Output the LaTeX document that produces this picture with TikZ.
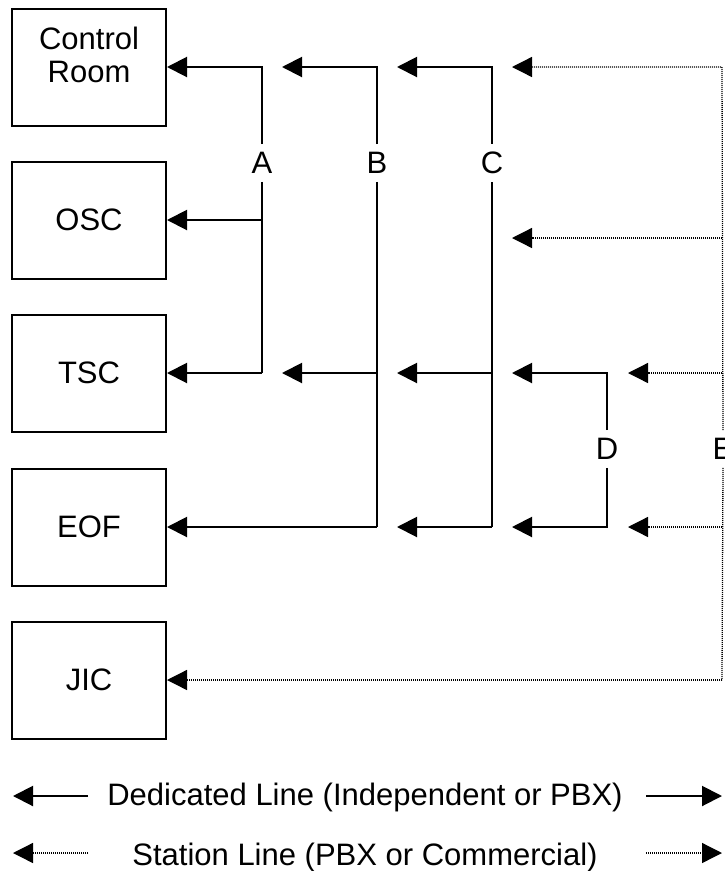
\documentclass[tikz,border=0pt]{standalone}
\usepackage{fontspec}
\setmainfont{Liberation Sans}
\usetikzlibrary{arrows.meta}
\tikzset{
  box/.style={draw, line width=2pt, minimum width=154pt, minimum height=117pt, inner sep=0pt, font=\fontsize{31}{33}\selectfont},
  txt/.style={inner sep=0pt, font=\fontsize{31}{33}\selectfont, align=center},
  tag/.style={inner xsep=2pt, inner ysep=8pt, font=\fontsize{31}{33}\selectfont},
  solidarrow/.style={line width=2pt, -{Triangle[length=20pt,width=20pt]}},
  solidplain/.style={line width=2pt},
  dotarrow/.style={line width=1.3pt, dash pattern=on 1pt off 1pt, -{Triangle[length=20pt,width=20pt]}},
  dotplain/.style={line width=1.3pt, dash pattern=on 1pt off 1pt},
}
\begin{document}
\begin{tikzpicture}[x=1pt,y=-1pt]
\useasboundingbox (0,0) rectangle (724,871);

% boxes
\node[box] (cr)  at (89,67)  {};
\node[txt] (crtext) at (89,55) {Control\\Room};
\node[box] (osc) at (89,220) {OSC};
\node[box] (tsc) at (89,373) {TSC};
\node[box] (eof) at (89,527) {EOF};
\node[box] (jic) at (89,680) {JIC};

% labels
\node[tag] (Alab) at (262,163) {A};
\node[tag] (Blab) at (377,163) {B};
\node[tag] (Clab) at (492,163) {C};
\node[tag] (Dlab) at (607,449) {D};
\node[tag] (Elab) at (723,449) {E};

% junction coordinates
\coordinate (a1) at (262,67);
\coordinate (a2) at (262,220);
\coordinate (a3) at (262,373);
\coordinate (b1) at (377,67);
\coordinate (b3) at (377,373);
\coordinate (b4) at (377,527);
\coordinate (bt1) at (282,67);
\coordinate (bt3) at (282,373);
\coordinate (c1) at (492,67);
\coordinate (c3) at (492,373);
\coordinate (c4) at (492,527);
\coordinate (ct1) at (397,67);
\coordinate (ct3) at (397,373);
\coordinate (ct4) at (397,527);
\coordinate (d1) at (607,373);
\coordinate (d2) at (607,527);
\coordinate (dt1) at (512,373);
\coordinate (dt2) at (512,527);
\coordinate (e1) at (722,67);
\coordinate (e2) at (722,238);
\coordinate (e3) at (722,373);
\coordinate (e4) at (722,527);
\coordinate (e5) at (722,680);
\coordinate (et1) at (512,67);
\coordinate (et2) at (512,238);
\coordinate (et3) at (628,373);
\coordinate (et4) at (628,527);

% A
\draw[solidarrow] (Alab.north) -- (a1) -- (cr.east);
\draw[solidplain] (Alab.south) -- (a3);
\draw[solidarrow] (a2) -- (osc.east);
\draw[solidarrow] (a3) -- (tsc.east);
% B
\draw[solidarrow] (Blab.north) -- (b1) -- (bt1);
\draw[solidplain] (Blab.south) -- (b4);
\draw[solidarrow] (b3) -- (bt3);
\draw[solidarrow] (b4) -- (eof.east);
% C
\draw[solidarrow] (Clab.north) -- (c1) -- (ct1);
\draw[solidplain] (Clab.south) -- (c4);
\draw[solidarrow] (c3) -- (ct3);
\draw[solidarrow] (c4) -- (ct4);
% D
\draw[solidarrow] (Dlab.north) -- (d1) -- (dt1);
\draw[solidarrow] (Dlab.south) -- (d2) -- (dt2);
% E
\draw[dotarrow] (Elab.north) -- (e1) -- (et1);
\draw[dotplain] (Elab.south) -- (e5);
\draw[dotarrow] (e2) -- (et2);
\draw[dotarrow] (e3) -- (et3);
\draw[dotarrow] (e4) -- (et4);
\draw[dotarrow] (e5) -- (jic.east);

% legend
\node[txt, anchor=base] (ded) at (365,805) {Dedicated Line (Independent or PBX)};
\node[txt, anchor=base] (sta) at (365,865) {Station Line (PBX or Commercial)};
\coordinate (dl0) at (13,796);
\coordinate (dl1) at (88,796);
\coordinate (dr0) at (646,796);
\coordinate (dr1) at (722,796);
\coordinate (sl0) at (13,853);
\coordinate (sl1) at (88,853);
\coordinate (sr0) at (646,853);
\coordinate (sr1) at (722,853);
\draw[solidarrow] (dl1) -- (dl0);
\draw[solidarrow] (dr0) -- (dr1);
\draw[dotarrow] (sl1) -- (sl0);
\draw[dotarrow] (sr0) -- (sr1);
\end{tikzpicture}
\end{document}
